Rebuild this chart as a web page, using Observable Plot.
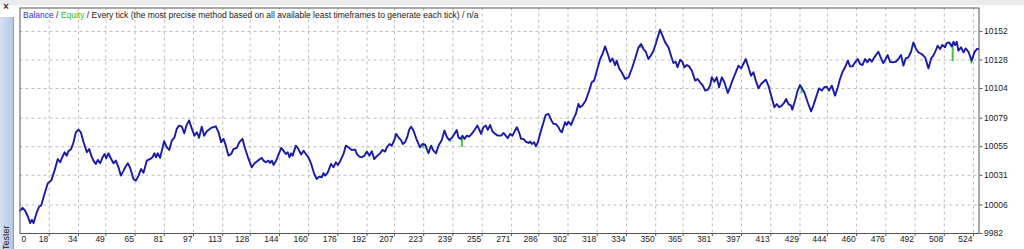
<!DOCTYPE html>
<html>
<head>
<meta charset="utf-8">
<script src="https://cdn.jsdelivr.net/npm/d3@7"></script>
<script src="https://cdn.jsdelivr.net/npm/@observablehq/plot@0.6"></script>
<style>
  html, body { margin: 0; padding: 0; background: #ffffff; }
  #wrap { position: relative; width: 1024px; height: 249px; overflow: hidden; font-family: "Liberation Sans", Arial, sans-serif; }
  #topstrip { position: absolute; left: 0; top: 0; width: 1024px; height: 5px; background: #ececec; border-bottom: 1px solid #f8f8f8; }
  #leftstrip { position: absolute; left: 0; top: 17px; width: 13px; height: 232px; background: linear-gradient(to right, #d6e2f2, #b4c8e2); border-right: 1px solid #8a9cb8; }
  #close { position: absolute; left: 3px; top: 1px; font-size: 10px; font-weight: bold; color: #333; }
  #tester { position: absolute; left: 1px; top: 249px; transform-origin: 0 0; transform: rotate(-90deg); font-size: 9px; color: #222; white-space: nowrap; }
  #chart { position: absolute; left: 0; top: 0; }
</style>
</head>
<body>
<div id="wrap">
  <div id="topstrip"></div>
  <div id="leftstrip"></div>
  <div id="close">×</div>
  <div id="tester"><span style="position:relative;left:-1px">Tester</span></div>
  <div id="chart"></div>
</div>
<script>
const xTicks = [0,18,34,49,65,81,97,113,128,144,160,176,192,207,223,239,255,271,286,302,318,334,350,365,381,397,413,429,444,460,476,492,508,524];
const yTicks = [9982,10006,10031,10055,10079,10104,10128,10152];

const trade = [2.1,3.4,4.8,6.3,7.6,8.5,9.4,11.2,12.5,13.6,15.4,17.2,19.1,20.9,22.7,24.0,24.9,26.4,27.6,28.5,30.0,31.3,32.6,34.0,35.3,36.8,38.6,39.9,41.0,42.2,43.5,44.6,45.9,47.2,48.3,49.2,50.4,51.9,53.2,54.5,55.9,57.2,58.7,59.6,61.0,62.3,64.1,65.4,66.9,68.3,69.6,71.4,73.3,74.5,75.6,76.5,77.4,78.7,80.9,82.4,83.7,85.1,86.6,87.8,89.1,90.6,91.9,93.3,94.6,96.1,97.5,98.8,100.1,101.5,102.8,104.3,106.6,109.2,110.7,112.1,113.4,114.7,116.1,117.6,118.9,120.7,122.0,123.8,125.3,127.1,128.9,130.4,132.2,134.4,135.3,136.6,138.0,138.9,139.9,140.8,141.7,142.6,145.0,146.2,147.5,148.6,149.5,150.4,151.3,153.0,154.4,155.9,157.2,158.5,159.9,161.4,163.2,164.5,165.8,167.2,168.1,169.0,170.5,172.3,173.6,174.9,176.0,177.3,179.1,180.4,181.8,183.6,185.5,186.4,187.8,189.1,190.6,191.9,193.3,194.6,195.9,197.7,199.2,200.4,201.9,202.8,204.3,205.5,206.8,207.9,209.2,210.5,211.6,212.8,214.1,215.0,216.1,217.4,219.2,221.0,222.3,223.8,225.6,227.1,228.3,229.8,231.1,232.9,234.4,235.6,236.9,238.4,239.8,241.1,242.0,243.3,244.2,245.3,246.6,247.9,249.3,250.8,252.4,253.5,254.4,255.7,257.0,258.1,259.4,260.6,262.1,263.6,265.4,266.7,267.9,269.0,270.3,271.6,272.7,274.0,275.2,276.3,277.6,278.9,280.3,281.3,282.2,283.5,284.4,285.5,286.7,288.6,289.8,291.3,292.8,294.0,295.3,296.8,297.7,298.6,299.5,300.4,301.3,302.2,303.7,305.0,306.3,307.7,308.6,309.9,311.7,313.6,315.0,316.3,317.8,319.6,320.9,322.3,323.8,325.1,326.3,327.8,328.7,330.0,331.4,333.3,335.1,336.9,338.7,340.6,342.0,343.3,344.6,346.0,347.3,348.8,350.0,351.1,352.4,353.7,355.2,357.0,358.4,359.7,361.0,361.9,363.4,364.6,365.7,367.0,368.3,369.8,371.6,373.0,374.3,375.6,377.1,378.5,379.8,380.7,382.2,383.4,384.7,386.2,387.6,389.5,390.7,392.0,393.5,395.3,396.8,398.0,399.3,400.8,402.2,403.5,404.8,406.3,407.7,409.0,410.3,411.7,413.2,415.0,416.3,417.6,419.0,420.3,421.4,422.6,424.1,424.8,426.3,427.7,429.0,430.3,431.4,433.2,435.1,436.3,437.6,439.4,440.9,442.3,443.6,444.9,446.4,448.2,449.7,450.9,452.2,453.7,455.2,456.4,457.7,459.2,460.6,461.9,463.2,464.6,465.9,467.0,468.3,469.7,471.9,473.4,474.6,475.9,477.0,478.3,479.6,481.4,482.9,484.3,485.6,486.9,488.3,489.8,491.1,492.4,493.8,495.6,497.5,499.3,500.8,502.0,503.3,504.4,505.7,506.9,508.4,509.3,510.6,512.1,513.0,513.9,514.8,515.7,517.2,518.5,519.7,521.2,523.0,524.5,525.8,526.7];

const balance = [10001.3,10003.6,10001.3,9996.3,9990.7,9993.5,9990.7,9999.9,10004.7,10005.5,10015.3,10024.3,10026.5,10034.9,10044.7,10041.9,10045.3,10050.3,10047.5,10051.2,10053.1,10058.7,10067.1,10069.4,10067.1,10058.7,10050.3,10053.1,10047.5,10043.3,10040.5,10043.9,10041.1,10046.1,10048.9,10045.3,10049.5,10044.7,10041.1,10043.3,10037.7,10030.7,10034.9,10037.7,10041.1,10037.2,10027.9,10026.5,10030.7,10036.3,10033.0,10043.3,10044.7,10046.1,10049.5,10046.1,10049.5,10045.6,10059.6,10054.5,10052.3,10060.1,10062.9,10070.0,10072.8,10071.9,10066.3,10073.6,10077.0,10070.0,10064.3,10067.1,10062.9,10071.9,10064.3,10068.0,10070.8,10072.2,10067.1,10058.7,10061.6,10055.9,10047.5,10048.9,10053.1,10054.0,10058.7,10061.6,10053.1,10044.7,10037.7,10041.1,10043.3,10045.6,10043.3,10041.9,10043.3,10041.4,10043.3,10039.7,10041.9,10044.7,10054.0,10051.7,10048.9,10050.3,10046.1,10049.5,10047.5,10055.9,10053.1,10048.4,10051.7,10048.9,10046.1,10040.5,10031.6,10027.9,10029.9,10029.3,10032.7,10030.7,10033.5,10040.5,10037.7,10041.9,10039.7,10042.8,10048.9,10055.9,10054.5,10052.3,10052.6,10048.9,10046.7,10046.1,10047.5,10050.9,10047.5,10051.2,10044.7,10047.5,10049.5,10052.3,10050.9,10054.5,10057.3,10055.9,10060.1,10065.8,10062.9,10060.7,10057.3,10058.7,10063.5,10069.1,10071.9,10068.6,10060.7,10054.5,10057.3,10056.8,10049.5,10055.9,10051.7,10049.5,10055.9,10060.7,10068.6,10063.5,10060.7,10062.4,10065.8,10069.1,10062.9,10061.6,10064.3,10061.6,10064.3,10063.5,10065.8,10069.1,10072.8,10069.1,10065.8,10071.4,10072.8,10069.1,10073.3,10068.0,10065.8,10064.3,10064.3,10066.6,10064.3,10062.1,10065.8,10064.3,10067.7,10071.4,10067.1,10061.6,10061.6,10059.3,10058.2,10059.3,10057.3,10058.7,10055.4,10058.7,10065.8,10075.6,10081.7,10082.6,10077.5,10074.2,10074.2,10071.4,10068.6,10067.1,10071.4,10075.6,10073.3,10076.1,10073.3,10078.4,10082.6,10091.0,10088.2,10089.6,10093.8,10102.2,10109.2,10110.6,10119.0,10128.8,10133.0,10139.4,10133.0,10126.5,10129.3,10123.7,10127.4,10120.9,10117.6,10112.0,10113.4,10120.4,10128.8,10138.6,10141.4,10137.2,10134.9,10128.8,10131.6,10135.8,10141.4,10147.0,10153.4,10148.4,10142.8,10138.6,10131.6,10125.4,10126.5,10121.8,10128.2,10126.5,10121.8,10123.7,10122.6,10119.0,10110.6,10112.0,10109.2,10106.9,10102.2,10103.0,10106.4,10113.4,10109.7,10113.4,10105.0,10113.4,10109.2,10100.2,10105.0,10110.6,10116.2,10123.2,10120.9,10124.6,10128.8,10121.8,10114.8,10117.6,10110.6,10104.1,10107.8,10109.7,10111.4,10106.4,10098.0,10088.2,10091.0,10088.2,10089.6,10091.8,10095.2,10091.0,10089.6,10086.2,10093.8,10102.2,10106.9,10103.6,10100.8,10092.4,10084.8,10089.6,10095.7,10104.1,10102.2,10105.0,10105.5,10102.2,10106.4,10098.0,10105.0,10112.0,10117.6,10121.8,10127.4,10122.6,10122.6,10126.0,10128.8,10124.6,10123.7,10128.8,10126.0,10128.8,10126.5,10130.2,10134.9,10129.3,10125.4,10128.8,10132.1,10126.5,10126.0,10126.5,10128.8,10132.1,10123.2,10129.3,10130.2,10134.9,10142.8,10137.7,10134.4,10133.0,10130.2,10120.9,10129.3,10131.6,10135.8,10140.0,10137.2,10140.5,10138.6,10142.2,10142.8,10139.4,10143.3,10140.5,10143.3,10135.8,10138.6,10134.4,10137.7,10134.9,10127.4,10134.4,10137.2,10137.2];

// equity dips below balance (trade number, lowest equity)
const dipTrade  = [99.8, 222.8, 237.5, 243.9, 341.5, 429.9, 512.6, 522.8];
const dipEquity = [10061.0, 10053.4, 10058.7, 10054.5, 10137.5, 10099.6, 10126.5, 10124.6];

const xDomain = [2, 527];
const yDomain = [9982, 10171.7];

const series = trade.map((t, i) => ({t, b: balance[i]}));
const balAt = (t) => {
  for (let i = 1; i < trade.length; i++) {
    if (trade[i] >= t) {
      const f = (t - trade[i-1]) / (trade[i] - trade[i-1]);
      return balance[i-1] + f * (balance[i] - balance[i-1]);
    }
  }
  return balance[balance.length - 1];
};
const dips = dipTrade.map((t, i) => ({t, top: balAt(t), low: dipEquity[i]}));

const chart = Plot.plot({
  width: 1024,
  height: 249,
  marginLeft: 19.5,
  marginRight: 45.5,
  marginTop: 7.5,
  marginBottom: 16,
  x: {domain: xDomain, label: null},
  y: {domain: yDomain, label: null},
  style: {fontFamily: "'Liberation Sans', Arial, sans-serif", fontSize: "8.5px", background: "transparent", color: "#1a1a1a", overflow: "visible"},
  marks: [
    Plot.frame({fill: "#ffffff", stroke: "none"}),
    Plot.gridX(xTicks.slice(1), {stroke: "#bdbdbd", strokeOpacity: 1, strokeDasharray: "3,3"}),
    Plot.gridY(yTicks.slice(1), {stroke: "#bdbdbd", strokeOpacity: 1, strokeDasharray: "3,3"}),
    Plot.ruleX(dips, {x: "t", y1: "top", y2: "low", stroke: "#42c842", strokeWidth: 2}),
    Plot.line(series, {x: "t", y: "b", stroke: "#1a1aa8", strokeWidth: 1.9}),
    Plot.frame({stroke: "#555555"}),
    Plot.axisX(xTicks.slice(1), {tickSize: 3, tickFormat: () => "", stroke: "#555555", label: null}),
    Plot.text(xTicks.slice(1), {x: d => d, frameAnchor: "bottom", textAnchor: "end", dx: -1, dy: 8.5, fill: "#1a1a1a"}),
    Plot.text(xTicks.slice(0, 1), {x: d => Math.max(d, xDomain[0]), frameAnchor: "bottom", textAnchor: "start", dx: 1.5, dy: 8.5, fill: "#1a1a1a"}),
    Plot.axisY(yTicks, {anchor: "right", tickSize: 3, tickPadding: 2, tickFormat: d => String(d), stroke: "#555555", fill: "#1a1a1a", label: null})
  ]
});

const svg = d3.select(chart);
const legend = svg.append("text")
  .attr("x", 23).attr("y", 18.3)
  .attr("text-anchor", "start")
  .attr("font-size", "8.5px")
  .attr("fill", "#1a1a1a");
legend.append("tspan").attr("fill", "#3535c8").text("Balance");
legend.append("tspan").text(" / ");
legend.append("tspan").attr("fill", "#2ec82e").text("Equity");
legend.append("tspan").text(" / Every tick (the most precise method based on all available least timeframes to generate each tick) / n/a");

document.getElementById("chart").appendChild(chart);
</script>
</body>
</html>
